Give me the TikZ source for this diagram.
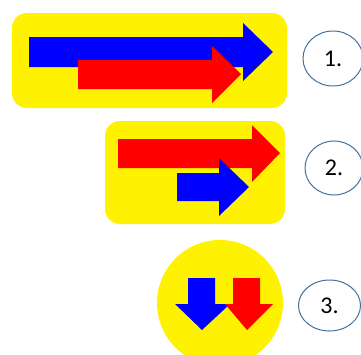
\documentclass[tikz,border=0pt]{standalone}
\usepackage{fontspec}
\setmainfont{Carlito}
\usetikzlibrary{shapes.geometric}
\definecolor{outl}{HTML}{41719C}
\tikzset{
  panel/.style={fill=yellow, draw=none, rounded corners=15pt},
  blu/.style={fill=blue, draw=none},
  rd/.style={fill=red, draw=none},
  label/.style={ellipse, draw=outl, line width=1pt, fill=white, font=\fontsize{24}{28}\selectfont, inner sep=0pt}
}
\begin{document}
\begin{tikzpicture}[x=1pt,y=-1pt]
\useasboundingbox (0,0) rectangle (361,354);
\clip (0,0) rectangle (361,354);
% panel 1
\fill[panel] (12,13) rectangle (287,108);
\fill[blu] (29,37) -- (243,37) -- (243,23) -- (273,52) -- (243,81) -- (243,67) -- (29,67) -- cycle;
\fill[rd] (78,60) -- (212,60) -- (212,46) -- (241,74) -- (212,103) -- (212,89) -- (78,89) -- cycle;
\node[label, minimum width=60pt, minimum height=55pt] (e1) at (333,58.5) {1.};
% panel 2
\fill[panel] (105,121) rectangle (285,224);
\fill[rd] (118,139) -- (252,139) -- (252,125) -- (280,153) -- (252,182) -- (252,168) -- (118,168) -- cycle;
\fill[blu] (177,173) -- (219,173) -- (219,158) -- (249,187) -- (219,216) -- (219,201) -- (177,201) -- cycle;
\node[label, minimum width=58pt, minimum height=54pt] (e2) at (334,168) {2.};
% panel 3
\fill[yellow] (220,303) circle (63);
\fill[blu] (188,278) -- (215,278) -- (215,304) -- (230,304) -- (202,330) -- (175,304) -- (188,304) -- cycle;
\fill[rd] (233,278) -- (260,278) -- (260,304) -- (273,304) -- (247,330) -- (225,304) -- (233,304) -- cycle;
\node[label, minimum width=62pt, minimum height=51pt] (e3) at (329.5,305.5) {3.};
\end{tikzpicture}
\end{document}
